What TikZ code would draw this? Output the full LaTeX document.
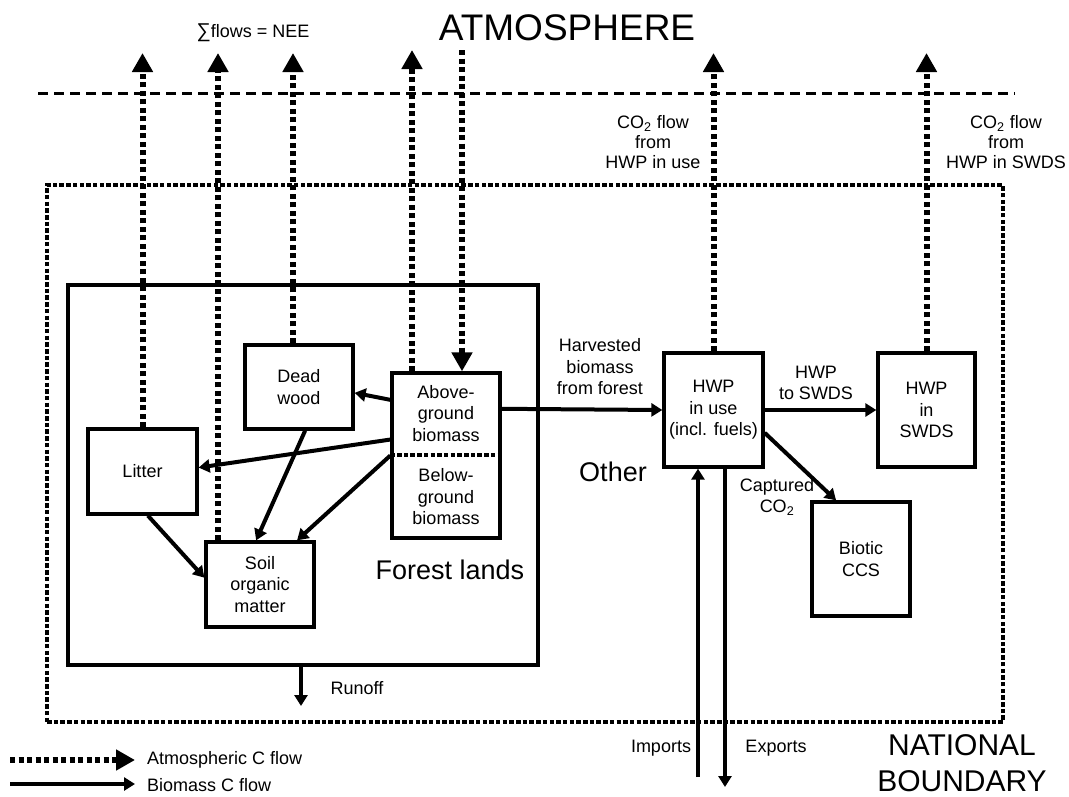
\documentclass[tikz,border=0pt]{standalone}
\usepackage{fontspec}
\setmainfont{Liberation Sans}
\usetikzlibrary{arrows.meta}
\begin{document}
\begin{tikzpicture}[x=1pt,y=-1pt,
  lab/.style={font=\fontsize{18}{21.5}\selectfont, align=center, inner sep=0pt},
  big/.style={font=\fontsize{27}{30}\selectfont, align=center, inner sep=0pt},
  box/.style={draw, line width=3.3pt, inner sep=0pt, font=\fontsize{18}{21.5}\selectfont, align=center},
  atm/.style={line width=6pt, dash pattern=on 5pt off 3.5pt, -{Triangle[length=19pt,width=20pt]}},
  bio/.style={line width=4pt, -{Triangle[length=11pt,width=13pt]}},
  bound/.style={line width=4pt, dash pattern=on 4.5pt off 2.2pt},
]
\useasboundingbox (0,0) rectangle (1069,796);

% atmosphere line and national boundary
\draw[line width=3pt, dash pattern=on 10pt off 6pt] (38,93) coordinate (atmL) -- (1015,93) coordinate (atmR);
\node[draw, bound, minimum width=956pt, minimum height=537pt, inner sep=0pt] (nat) at (525,453.5) {};
\node[draw, line width=3.5pt, minimum width=470pt, minimum height=380pt, inner sep=0pt] (forest) at (303,475) {};

% boxes
\node[box, minimum width=108pt, minimum height=84pt] (dead) at (299,387) {Dead\\wood};
\node[box, minimum width=108pt, minimum height=165pt] (ag) at (446,455.5) {};
\node[lab] (agt) at (446,413.5) {Above-\\ground\\biomass};
\node[lab] (agb) at (446,497) {Below-\\ground\\biomass};
\coordinate (agdiv) at (446,455);
\draw[bound] (ag.west |- agdiv) -- (ag.east |- agdiv);
\node[box, minimum width=109pt, minimum height=85pt] (litter) at (142.5,471.5) {Litter};
\node[box, minimum width=108pt, minimum height=85pt] (soil) at (260,584.5) {Soil\\organic\\matter};
\node[box, minimum width=99pt, minimum height=114pt] (hwp) at (713.5,410) {HWP\\in use\\(incl. fuels)};
\node[box, minimum width=97pt, minimum height=114pt] (swds) at (926.5,410) {HWP\\in\\SWDS};
\node[box, minimum width=98pt, minimum height=114pt] (ccs) at (861,559) {Biotic\\CCS};

% atmospheric flows
\coordinate (t1) at (142.5,53);
\coordinate (t2) at (218,53);
\coordinate (t3) at (293,53);
\coordinate (t4) at (412,50);
\coordinate (t5) at (462,50);
\coordinate (t6) at (713.5,53);
\coordinate (t7) at (926.5,53);
\draw[atm] (litter.north) -- (t1);
\draw[atm] (soil.north -| t2) -- (t2);
\draw[atm] (dead.north -| t3) -- (t3);
\draw[atm] (ag.north -| t4) -- (t4);
\draw[atm] (t5) -- (ag.north -| t5);
\draw[atm] (hwp.north) -- (t6);
\draw[atm] (swds.north) -- (t7);

% biomass flows
\draw[bio] (ag.135) -- (dead.-6);
\draw[bio] (ag.164) -- (litter.4);
\draw[bio] (ag.west) -- (soil.50.5);
\draw[bio] (dead.-82) -- (soil.95);
\draw[bio] (litter.-83) -- (soil.173);
\draw[bio] (ag.40) -- (hwp.west);
\draw[bio] (hwp.east) -- (swds.west);
\draw[bio] (hwp.-24) -- (ccs.113);
\coordinate (imp) at (698,777);
\coordinate (exp) at (725,787);
\draw[bio] (imp) -- (hwp.south -| imp);
\draw[bio] (hwp.south -| exp) -- (exp);
\coordinate (ro) at (301,706);
\draw[bio] (forest.south -| ro) -- (ro);

% labels
\node[font=\fontsize{37}{40}\selectfont, inner sep=0pt] (atmos) at (567,28) {ATMOSPHERE};
\node[lab] (nee) at (253,33) {\fontsize{20}{21.5}\selectfont∑\fontsize{18}{21.5}\selectfont flows = NEE};
\node[lab, font=\fontsize{18}{20}\selectfont] (co2a) at (653,142) {CO\textsubscript{2} flow\\from\\HWP in use};
\node[lab, font=\fontsize{18}{20}\selectfont] (co2b) at (1006,142) {CO\textsubscript{2} flow\\from\\HWP in SWDS};
\node[lab] (harv) at (600,367) {Harvested\\biomass\\from forest};
\node[lab] (toswds) at (816,383) {HWP\\to SWDS};
\node[lab] (capt) at (777,497) {Captured\\CO\textsubscript{2}};
\node[big] (other) at (613,472) {Other};
\node[big] (fl) at (450,570) {Forest lands};
\node[lab] (runoff) at (357,688) {Runoff};
\node[lab] (imports) at (661,748) {Imports};
\node[lab] (exports) at (776,748) {Exports};
\node[font=\fontsize{30}{36}\selectfont, align=center, inner sep=0pt] (natl) at (962,763) {NATIONAL\\BOUNDARY};

% legend
\coordinate (la0) at (10,760);
\coordinate (la1) at (135,760);
\coordinate (lb0) at (10,784);
\coordinate (lb1) at (135,784);
\draw[atm] (la0) -- (la1);
\draw[bio] (lb0) -- (lb1);
\node[lab, anchor=west] (lega) at (147,760) {Atmospheric C flow};
\node[lab, anchor=west] (legb) at (147,785) {Biomass C flow};
\end{tikzpicture}
\end{document}
